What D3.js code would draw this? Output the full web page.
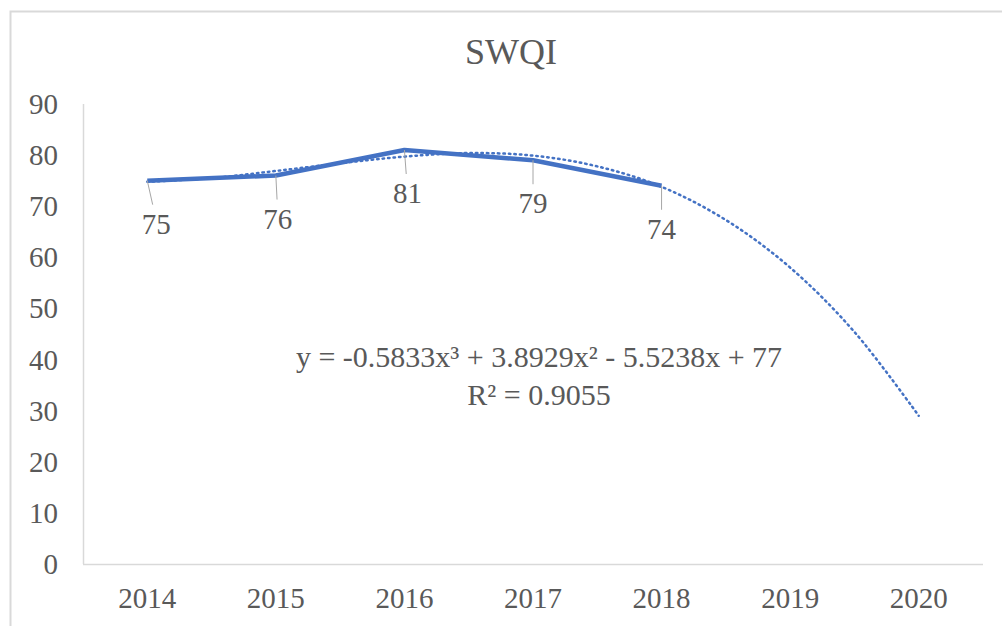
<!DOCTYPE html>
<html>
<head>
<meta charset="utf-8">
<script src="https://cdn.jsdelivr.net/npm/d3@7.9.0/dist/d3.min.js"></script>
<style>
  body { margin: 0; background: #fff; }
  #wrap { position: relative; width: 1002px; height: 626px; overflow: hidden; }
  #chart { position: absolute; left: 0; top: 0; }
  .lbl {
    position: absolute;
    font-family: 'Liberation Serif', 'Times New Roman', serif;
    color: #595959;
    line-height: normal;
    white-space: nowrap;
  }
</style>
</head>
<body>
<div id="wrap">
  <svg id="chart" width="1002" height="626"></svg>
</div>
<script>
// data
const years = ["2014", "2015", "2016", "2017", "2018", "2019", "2020"];
const swqi = [75, 76, 81, 79, 74];
// polynomial trendline, read at half-year steps (x = 1 .. 7)
const trendX = [1, 1.5, 2, 2.5, 3, 3.5, 4, 4.5, 5, 5.5, 6, 6.5, 7];
const trendY = [74.8, 75.5, 76.9, 78.4, 79.7, 80.4, 79.9, 77.8, 73.8, 67.3, 58.0, 45.4, 29.0];
const yTicks = [0, 10, 20, 30, 40, 50, 60, 70, 80, 90];
const equation = "y = -0.5833x³ + 3.8929x² - 5.5238x + 77";
const rSquared = "R² = 0.9055";

const wrap = d3.select('#wrap');
const svg = d3.select('#chart');
const blue = '#4472C4';

// text as html so the serif face is used; (x, baseline) like svg text
function label(x, baseline, txt, size, anchor) {
    const shift = anchor === 'middle' ? '-50%' : anchor === 'end' ? '-100%' : '0';
    wrap.append('div')
        .attr('class', 'lbl')
        .style('left', x + 'px')
        .style('top', (baseline - 0.891 * size) + 'px')
        .style('font-size', size + 'px')
        .style('transform', `translateX(${shift})`)
        .text(txt);
}

// outer chart border
svg.append('rect')
    .attr('x', 10.5).attr('y', 11.5)
    .attr('width', 1010).attr('height', 640)
    .attr('fill', 'none')
    .attr('stroke', '#d9d9d9')
    .attr('stroke-width', 2);

const x = d3.scaleBand().domain(years).range([83, 983]);
const xc = i => x(years[0]) + x.bandwidth() * (i - 0.5); // x = 1 -> first band centre
const y = d3.scaleLinear().domain([0, 90]).range([564, 104]);

// title
label(511, 63, 'SWQI', 36, 'middle');

// y axis line + labels
svg.append('line')
    .attr('x1', 83.5).attr('x2', 83.5)
    .attr('y1', y(90)).attr('y2', y(0))
    .attr('stroke', '#d9d9d9').attr('stroke-width', 1.5);

yTicks.forEach(d => label(58, y(d) + 0.34 * 29, d, 29, 'end'));

// x axis line + labels
svg.append('line')
    .attr('x1', 83).attr('x2', 983)
    .attr('y1', y(0) + 0.5).attr('y2', y(0) + 0.5)
    .attr('stroke', '#d9d9d9').attr('stroke-width', 1.5);

years.forEach(d => label(x(d) + x.bandwidth() / 2, 608, d, 29, 'middle'));

// data line
const line = d3.line()
    .x((d, i) => x(years[i]) + x.bandwidth() / 2)
    .y(d => y(d));

svg.append('path')
    .datum(swqi)
    .attr('d', line)
    .attr('fill', 'none')
    .attr('stroke', blue)
    .attr('stroke-width', 4.5)
    .attr('stroke-linejoin', 'round');

// trendline (dotted)
const trend = d3.line()
    .x(d => xc(d[0]))
    .y(d => y(d[1]))
    .curve(d3.curveCatmullRom);

svg.append('path')
    .datum(trendX.map((t, i) => [t, trendY[i]]))
    .attr('d', trend)
    .attr('fill', 'none')
    .attr('stroke', blue)
    .attr('stroke-width', 2.5)
    .attr('stroke-dasharray', '1.5,4')
    .attr('stroke-linecap', 'round');

// data labels with leader lines
const labelDx = [9, 2, 3, 0, 0];

swqi.forEach((v, i) => {
    const px = x(years[i]) + x.bandwidth() / 2;
    const py = y(v);
    svg.append('line')
        .attr('x1', px).attr('y1', py)
        .attr('x2', px + labelDx[i] * 0.6).attr('y2', py + 24)
        .attr('stroke', '#a6a6a6').attr('stroke-width', 1);
    label(px + labelDx[i], py + 43 + 0.34 * 29, v, 29, 'middle');
});

// trendline equation
label(539, 367, equation, 30, 'middle');
label(539, 405, rSquared, 30, 'middle');
</script>
</body>
</html>
